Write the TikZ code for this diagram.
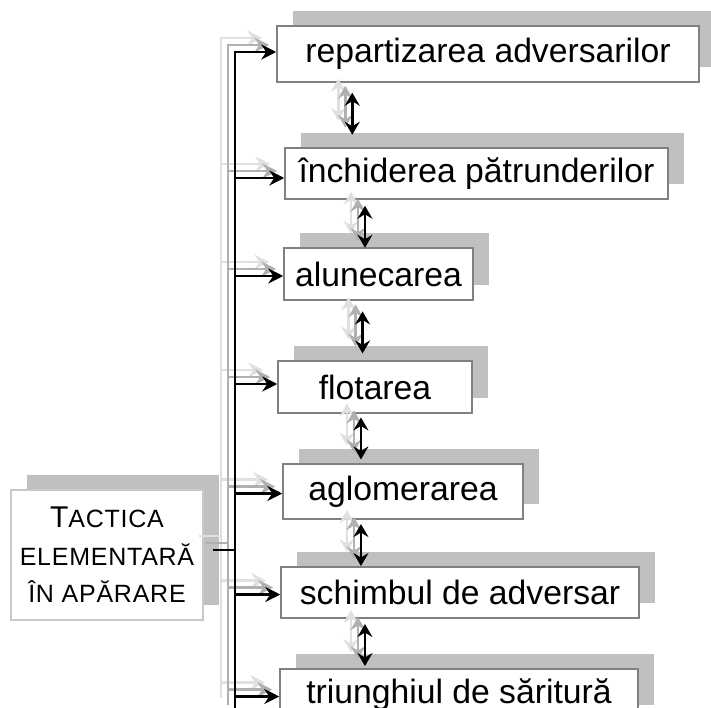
\documentclass[tikz,border=0pt]{standalone}
\usepackage{fontspec}
\setmainfont{Liberation Sans}
\usetikzlibrary{arrows.meta, calc, shadows}
\definecolor{cInk}{HTML}{000000}
\definecolor{cEdge}{HTML}{808080}
\definecolor{cEdgeL}{HTML}{C8C8C8}
\definecolor{cShade}{HTML}{C0C0C0}
\definecolor{cGhostA}{HTML}{B0B0B0}
\definecolor{cGhostB}{HTML}{E0E0E0}
\newcommand{\bigT}[1]{{\fontsize{30}{37.5}\selectfont #1}}
\tikzset{
  item/.style={rectangle, draw=cEdge, line width=1.5pt, fill=white, text=cInk, inner sep=0pt,
               font=\fontsize{33.7}{40}\selectfont,
               drop shadow={shadow xshift=16pt, shadow yshift=15pt, fill=cShade, opacity=1}},
  head/.style={item, draw=cEdgeL, align=center,
               font=\fontsize{25}{37.5}\selectfont\addfontfeature{LetterSpace=3}},
  feed/.style={-{Stealth[length=15pt, width=15pt, inset=5pt]}, line width=2.5pt},
  swap/.style={{Stealth[length=13pt, width=15pt, inset=4.5pt]}-{Stealth[length=13pt, width=15pt, inset=4.5pt]},
               line width=2.7pt},
  tie/.style={line width=1.5pt},
}
% all connectors, shifted up-left by #2 and drawn in colour #1
\newcommand{\drawlinks}[2]{%
  \draw[feed, line width=2.8pt, draw=#1] ($(busend)+(-#2,-#2)$) |- ($(r1.west)+(-#2,-2-#2)$);
  \foreach \n/\d in {2/4.5, 3/2, 4/-3, 5/2, 6/2, 7/2}
    \draw[feed, draw=#1] ($(busend |- r\n.west)+(-#2,\d-#2)$) -- ($(r\n.west)+(-#2,\d-#2)$);
  \foreach \a/\o/\s in {r1/76/10, r2/80.7/6, r3/79.3/10.7, r4/83.7/3.7, r5/78.7/4.3, r6/84.7/5.3}
    \draw[swap, draw=#1] ($(\a.south west)+(\o-#2,\s-#2)$) -- ++(0,42);
  \draw[tie, draw=#1] ($(tac.east)+(9-#2,-5-#2)$) -- ($(busend |- tac.east)+(-#2,-5-#2)$);
}

\begin{document}
\begin{tikzpicture}[x=1pt, y=-1pt]
  \clip (0,0) rectangle (711,708);

  % ---- the seven forms, top to bottom
  \node[item, minimum width=422pt, minimum height=56pt] (r1) at (488,54) {repartizarea adversarilor};
  \node[item, minimum width=383pt, minimum height=51pt] (r2) at (476.5,173.5) {închiderea pătrunderilor};
  \node[item, minimum width=189pt, minimum height=52pt] (r3) at (378.5,274) {alunecarea};
  \node[item, minimum width=194pt, minimum height=52pt] (r4) at (375,387) {flotarea};
  \node[item, minimum width=240pt, minimum height=55pt] (r5) at (403,491.5) {aglomerarea};
  \node[item, minimum width=358pt, minimum height=51pt] (r6) at (460,592.5) {schimbul de adversar};
  \node[item, minimum width=358pt, minimum height=51pt] (r7) at (459,694.5) {triunghiul de săritură};

  % ---- root
  \node[head, minimum width=192pt, minimum height=130pt] (tac) at (107,555)
       {\bigT{T}ACTICA\\ELEMENTARĂ\\ÎN APĂRARE};

  \coordinate (busend) at (235,712);

  % ---- connectors with their faded trail
  \drawlinks{cGhostB}{14}
  \drawlinks{cGhostA}{7}
  \drawlinks{cInk}{0}
\end{tikzpicture}
\end{document}
